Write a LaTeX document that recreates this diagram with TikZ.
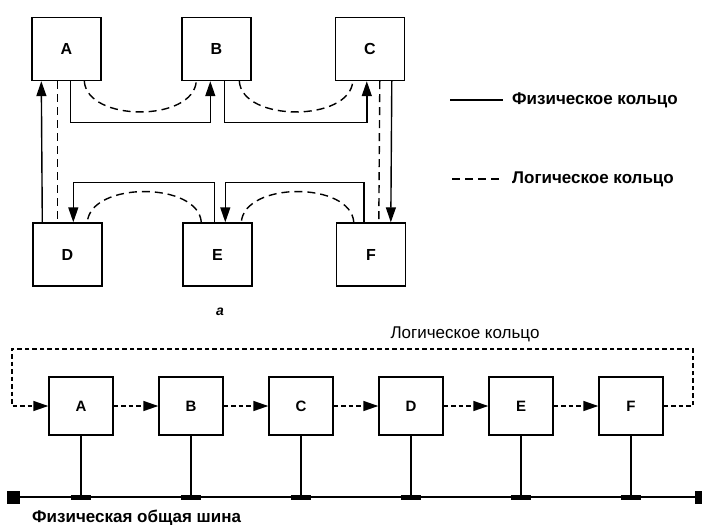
\documentclass[tikz,border=0pt]{standalone}
\usepackage{fontspec}
\setmainfont{Liberation Sans}
\usetikzlibrary{arrows.meta}

\tikzset{
    station/.style={draw, line width=1.4pt, minimum width=69pt, minimum height=63pt,
        inner sep=0pt, font=\fontsize{16}{18}\selectfont\bfseries},
    busstation/.style={station, minimum width=64pt, minimum height=58pt, font=\fontsize{15}{17}\selectfont\bfseries},
    phys/.style={line width=1.4pt},
    logic/.style={line width=1.4pt, dash pattern=on 8pt off 5pt},
    busdash/.style={line width=1.4pt, dash pattern=on 4.5pt off 3pt},
    tip/.style={-{Triangle[length=15pt,width=10pt]}},
    legendtext/.style={anchor=west, inner sep=0pt, font=\fontsize{17}{19}\selectfont\bfseries},
    tap/.style={fill, minimum width=20pt, minimum height=5pt, inner sep=0pt},
    busend/.style={fill, minimum size=13pt, inner sep=0pt}
}

\begin{document}
\begin{tikzpicture}[x=1pt, y=-1pt]
    \useasboundingbox (0,0) rectangle (702,525);

    % Stations of the ring (a)
    \node[station] (ta) at (66.5, 49) {A};
    \node[station] (tb) at (216.5, 49) {B};
    \node[station] (tc) at (370, 49) {C};
    \node[station] (td) at (67.5, 254.5) {D};
    \node[station] (te) at (217.5, 254.5) {E};
    \node[station] (tf) at (371, 254.5) {F};

    % Physical ring
    \draw[phys, tip] ([xshift=10pt]td.north west) -- ([xshift=10pt]ta.south west);
    \draw[phys, tip] ([xshift=39pt]ta.south west) -- ++(0,41) -| ([xshift=29pt]tb.south west);
    \draw[phys, tip] ([xshift=43pt]tb.south west) -- ++(0,41) -| ([xshift=32pt]tc.south west);
    \draw[phys, tip] ([xshift=57pt]tc.south west) -- ([xshift=55pt]tf.north west);
    \draw[phys, tip] ([xshift=28pt]tf.north west) -- ++(0,-40) -| ([xshift=43pt]te.north west);
    \draw[phys, tip] ([xshift=32pt]te.north west) -- ++(0,-40) -| ([xshift=41pt]td.north west);

    % Logical ring
    \draw[logic] ([xshift=53pt]ta.south west) .. controls +(3,41) and +(-3,41) .. ([xshift=15pt]tb.south west);
    \draw[logic] ([xshift=58pt]tb.south west) .. controls +(3,41) and +(-3,41) .. ([xshift=18pt]tc.south west);
    \draw[logic] ([xshift=45pt]tc.south west) -- ([xshift=43pt]tf.north west);
    \draw[logic] ([xshift=18pt]tf.north west) .. controls +(-3,-41) and +(3,-41) .. ([xshift=59pt]te.north west);
    \draw[logic] ([xshift=19pt]te.north west) .. controls +(-3,-41) and +(3,-41) .. ([xshift=55pt]td.north west);
    \draw[logic] ([xshift=26pt]ta.south west) -- ([xshift=25pt]td.north west);

    % Legend
    \node[legendtext] (lphys) at (512, 100) {Физическое кольцо};
    \node[legendtext] (llog) at (512, 179) {Логическое кольцо};
    \coordinate (lphysL) at (450, 100);
    \coordinate (llogL) at (452, 179);
    \draw[phys] (lphysL) -- ([xshift=-9pt]lphys.west);
    \draw[logic] (llogL) -- ([xshift=-9pt]llog.west);

    % Caption
    \node[font=\fontsize{14}{16}\selectfont\itshape\bfseries] (capa) at (220, 312) {а};

    % Stations on the bus (b)
    \foreach \n [count=\i from 0] in {A,B,C,D,E,F} {
        \node[busstation] (b\n) at (81+110*\i, 406) {\n};
    }

    % Logical ring over the bus
    \coordinate (ringL) at (12, 349);
    \coordinate (ringR) at (693, 349);
    \node[font=\fontsize{17}{19}\selectfont] (lring) at (465, 334) {Логическое кольцо};
    \draw[busdash, tip] (bF.east) -| (ringR) -- (ringL) |- (bA.west);
    \draw[busdash, tip] (bA.east) -- (bB.west);
    \draw[busdash, tip] (bB.east) -- (bC.west);
    \draw[busdash, tip] (bC.east) -- (bD.west);
    \draw[busdash, tip] (bD.east) -- (bE.west);
    \draw[busdash, tip] (bE.east) -- (bF.west);

    % Physical bus
    \coordinate (busL) at (13, 497);
    \coordinate (busR) at (701, 497);
    \draw[phys] (busL) -- (busR);
    \node[busend] (endL) at (busL) {};
    \node[busend] (endR) at (busR) {};
    \foreach \n in {A,B,C,D,E,F} {
        \draw[phys] (b\n.south) -- (b\n.south |- busL);
        \node[tap] (tap\n) at (b\n.south |- busL) {};
    }
    \node[legendtext] (lbus) at (32, 518) {Физическая общая шина};
\end{tikzpicture}
\end{document}
